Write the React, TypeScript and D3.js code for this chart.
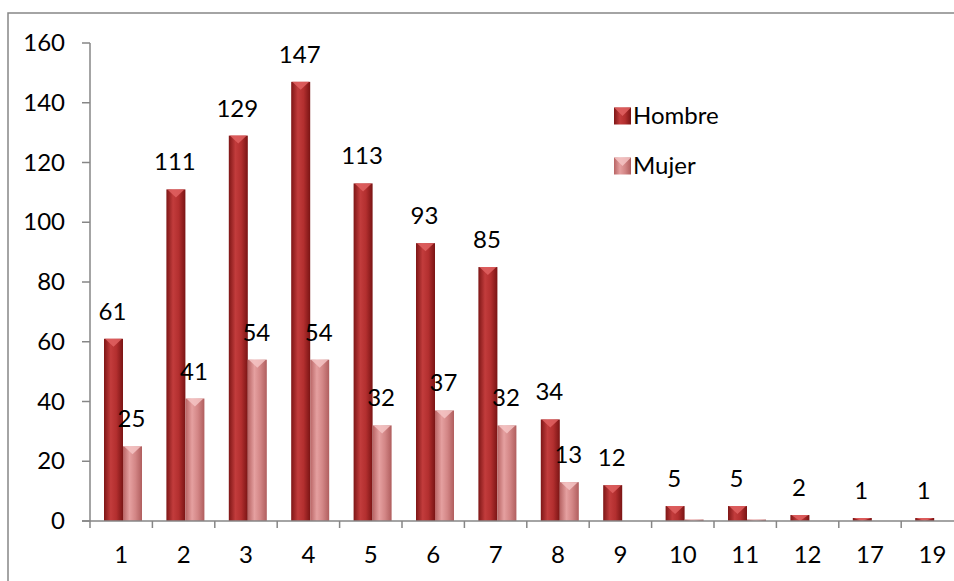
import * as d3 from 'd3';

const categories = ['1', '2', '3', '4', '5', '6', '7', '8', '9', '10', '11', '12', '17', '19'];
const hombre = [61, 111, 129, 147, 113, 93, 85, 34, 12, 5, 5, 2, 1, 1];
const mujer = [25, 41, 54, 54, 32, 37, 32, 13, 0, 0.5, 0.5, 0, 0, 0];
const seriesNames = ['Hombre', 'Mujer'];
const yTicks = [0, 20, 40, 60, 80, 100, 120, 140, 160];

const width = 954;
const height = 581;
const font = "Lato, 'Open Sans', sans-serif";
const fontSize = 24;
const axisColour = '#868686';

const look = {
  Hombre: { id: 'gH', stops: ['#7e1616', '#c23c3c', '#b32f2f', '#7a1414'], cap: '#e06262' },
  Mujer: { id: 'gM', stops: ['#b86464', '#e5a0a0', '#d38686', '#b05e5e'], cap: '#f5c4c4' },
};

export default function App() {
  const x = d3.scaleBand(categories, [90, 90 + 62.4 * categories.length]);
  const inner = d3.scaleBand(seriesNames, [14, 52]);
  const y = d3.scaleLinear([0, 160], [521, 43]);
  const values = { Hombre: hombre, Mujer: mujer };

  const bars = seriesNames.flatMap((s) =>
    categories.map((c, i) => {
      const v = values[s][i];
      const x0 = (x(c) ?? 0) + (inner(s) ?? 0);
      const w = inner.bandwidth();
      const top = y(v);
      const h = y(0) - top;
      return { s, c, v, x0, w, top, h };
    })
  );

  return (
    <svg
      width={width}
      height={height}
      style={{ position: 'absolute', left: 0, top: 0, background: '#fff' }}
      fontFamily={font}
    >
      <defs>
        {seriesNames.map((s) => (
          <linearGradient key={s} id={look[s].id} x1="0" x2="1" y1="0" y2="0">
            <stop offset="0%" stopColor={look[s].stops[0]} />
            <stop offset="35%" stopColor={look[s].stops[1]} />
            <stop offset="65%" stopColor={look[s].stops[2]} />
            <stop offset="100%" stopColor={look[s].stops[3]} />
          </linearGradient>
        ))}
      </defs>

      {/* outer frame */}
      <path d={`M8,${height}V13H${width}`} fill="none" stroke={axisColour} strokeWidth={1.5} />

      {/* y axis */}
      <line x1={90} x2={90} y1={y(160)} y2={528} stroke={axisColour} strokeWidth={1.5} />
      {yTicks.map((t) => (
        <g key={t}>
          <line x1={82} x2={90} y1={y(t)} y2={y(t)} stroke={axisColour} strokeWidth={1.5} />
          <text x={65} y={y(t) + 8} textAnchor="end" fontSize={fontSize} fill="#000">
            {t}
          </text>
        </g>
      ))}

      {/* bars */}
      {bars
        .filter((b) => b.h > 0)
        .map((b) => {
          const cap = Math.min(8, b.h);
          return (
            <g key={b.s + b.c}>
              <rect x={b.x0} y={b.top} width={b.w} height={b.h} fill={`url(#${look[b.s].id})`} />
              <path
                d={`M${b.x0 + 1},${b.top}H${b.x0 + b.w - 1}L${b.x0 + b.w / 2},${b.top + cap}Z`}
                fill={look[b.s].cap}
                opacity={0.85}
              />
            </g>
          );
        })}

      {/* x axis */}
      <line x1={82} x2={width} y1={y(0)} y2={y(0)} stroke={axisColour} strokeWidth={1.5} />
      {categories.slice(1).map((c) => (
        <line
          key={c}
          x1={x(c)}
          x2={x(c)}
          y1={y(0)}
          y2={528}
          stroke={axisColour}
          strokeWidth={1.5}
        />
      ))}
      {categories.map((c) => (
        <text
          key={c}
          x={(x(c) ?? 0) + x.bandwidth() / 2}
          y={563}
          textAnchor="middle"
          fontSize={fontSize}
          fill="#000"
        >
          {c}
        </text>
      ))}

      {/* data labels */}
      {bars
        .filter((b) => b.v >= 1)
        .map((b) => (
          <text
            key={'l' + b.s + b.c}
            x={b.x0 + b.w / 2 - 1}
            y={b.top - 19}
            textAnchor="middle"
            fontSize={fontSize}
            fill="#000"
          >
            {b.v}
          </text>
        ))}

      {/* legend */}
      {seriesNames.map((s, i) => {
        const cy = 116 + i * 50;
        return (
          <g key={s}>
            <rect x={614} y={cy - 8.5} width={17} height={17} fill={`url(#${look[s].id})`} />
            <path d={`M614,${cy - 8.5}H631L622.5,${cy}Z`} fill={look[s].cap} opacity={0.85} />
            <text x={633} y={cy + 8} fontSize={fontSize} fill="#000">
              {s}
            </text>
          </g>
        );
      })}
    </svg>
  );
}
